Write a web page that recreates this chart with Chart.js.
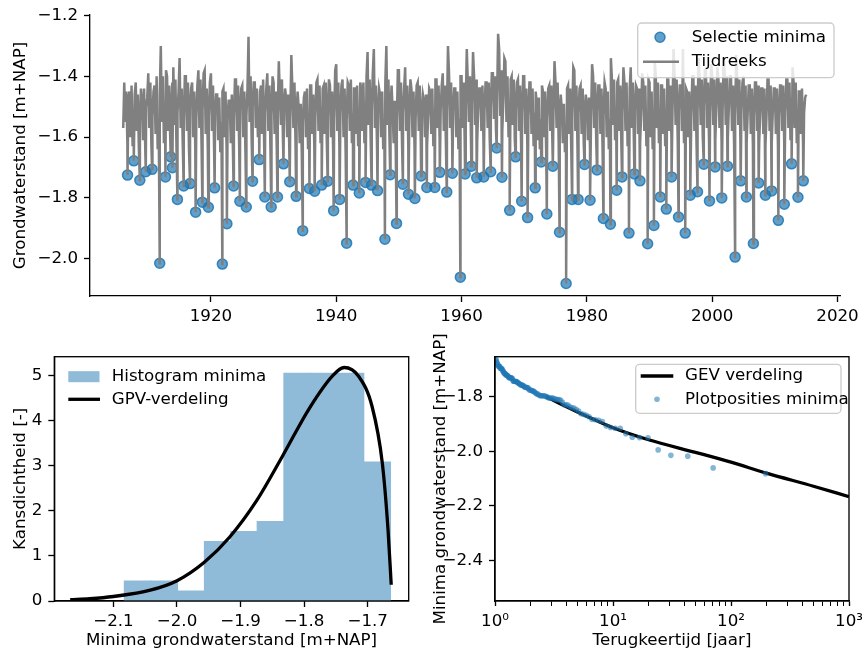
<!DOCTYPE html>
<html>
<head>
<meta charset="utf-8">
<script src="https://cdn.jsdelivr.net/npm/chart.js@4/dist/chart.umd.min.js"></script>
<style>
  html, body { margin: 0; padding: 0; background: #fff; }
  #wrap { position: relative; width: 862px; height: 649px; overflow: hidden; }
  canvas { position: absolute; }
</style>
</head>
<body>
<div id="wrap">
  <canvas id="tijdreeks" width="862" height="330" style="left:0;top:0"></canvas>
  <canvas id="histogram" width="431" height="319" style="left:0;top:330px"></canvas>
  <canvas id="terugkeer" width="431" height="319" style="left:431px;top:330px"></canvas>
</div>
<script>
// ---- data -------------------------------------------------------------------

// annual minima: date (decimal year) and level [m+NAP]
const minimaJaar = [
  1906.69, 1907.69, 1908.65, 1909.60, 1910.61, 1911.83, 1912.74, 1913.58, 1913.85, 1914.65,
  1915.65, 1916.66, 1917.56, 1918.63, 1919.59, 1920.59, 1921.82, 1922.55, 1923.61, 1924.62,
  1925.64, 1926.64, 1927.71, 1928.60, 1929.62, 1930.62, 1931.58, 1932.58, 1933.60, 1934.65,
  1935.72, 1936.56, 1937.68, 1938.63, 1939.59, 1940.54, 1941.66, 1942.68, 1943.68, 1944.68,
  1945.64, 1946.59, 1947.77, 1948.61, 1949.62, 1950.64, 1951.53, 1952.55, 1953.55, 1954.46,
  1955.73, 1956.53, 1957.64, 1958.54, 1959.81, 1960.56, 1961.56, 1962.42, 1963.54, 1964.65,
  1965.61, 1966.45, 1967.68, 1968.63, 1969.59, 1970.54, 1971.75, 1972.71, 1973.61, 1974.57,
  1975.64, 1976.69, 1977.64, 1978.60, 1979.62, 1980.51, 1981.62, 1982.64, 1983.76, 1984.76,
  1985.61, 1986.72, 1987.58, 1988.47, 1989.70, 1990.70, 1991.72, 1992.68, 1993.52, 1994.63,
  1995.70, 1996.50, 1997.66, 1998.66, 1999.57, 2000.48, 2001.53, 2002.44, 2003.66, 2004.55,
  2005.46, 2006.58, 2007.42, 2008.49, 2009.49, 2010.56, 2011.51, 2012.68, 2013.69, 2014.54
];
const minimaWaarde = [
  -1.725, -1.678, -1.742, -1.714, -1.706, -2.015, -1.731, -1.665, -1.701, -1.805,
  -1.761, -1.753, -1.847, -1.814, -1.831, -1.767, -2.018, -1.885, -1.761, -1.811,
  -1.830, -1.745, -1.674, -1.797, -1.830, -1.797, -1.688, -1.747, -1.795, -1.908,
  -1.769, -1.778, -1.758, -1.745, -1.842, -1.805, -1.949, -1.758, -1.784, -1.749,
  -1.758, -1.776, -1.936, -1.724, -1.884, -1.755, -1.788, -1.802, -1.728, -1.766,
  -1.766, -1.716, -1.781, -1.719, -2.061, -1.721, -1.696, -1.734, -1.731, -1.714,
  -1.636, -1.732, -1.841, -1.665, -1.811, -1.865, -1.767, -1.682, -1.853, -1.696,
  -1.913, -2.082, -1.805, -1.805, -1.690, -1.808, -1.708, -1.868, -1.887, -1.775,
  -1.731, -1.916, -1.721, -1.744, -1.951, -1.891, -1.797, -1.837, -1.731, -1.863,
  -1.916, -1.791, -1.780, -1.689, -1.810, -1.698, -1.800, -1.696, -1.995, -1.744,
  -1.797, -1.950, -1.751, -1.791, -1.777, -1.874, -1.821, -1.688, -1.798, -1.744
];

// rest of the time series: 6 readings per year (Jan, Mar, May, Jul, Sep, Nov), 1906 - 2015
const reeksStartJaar = 1906;
const reeksPerJaar = 6;
const reeksWaarden = [
  -1.57,-1.42,-1.55,-1.45,-1.62,-1.47,  -1.45,-1.60,-1.43,-1.63,-1.52,-1.46,
  -1.42,-1.58,-1.46,-1.64,-1.55,-1.44,  -1.48,-1.61,-1.44,-1.62,-1.50,-1.47,
  -1.39,-1.57,-1.42,-1.63,-1.53,-1.45,  -1.43,-1.59,-1.40,-1.64,-1.56,-1.46,
  -1.30,-1.55,-1.40,-1.62,-1.50,-1.38,  -1.40,-1.58,-1.43,-1.60,-1.51,-1.42,
  -1.37,-1.56,-1.41,-1.63,-1.52,-1.45,  -1.34,-1.57,-1.44,-1.62,-1.55,-1.40,
  -1.40,-1.58,-1.42,-1.64,-1.50,-1.44,  -1.42,-1.60,-1.45,-1.63,-1.54,-1.43,
  -1.38,-1.57,-1.41,-1.62,-1.51,-1.39,  -1.38,-1.59,-1.44,-1.64,-1.53,-1.42,
  -1.39,-1.58,-1.43,-1.63,-1.52,-1.46,  -1.46,-1.61,-1.47,-1.65,-1.55,-1.45,
  -1.44,-1.60,-1.45,-1.64,-1.53,-1.48,  -1.48,-1.62,-1.46,-1.63,-1.54,-1.41,
  -1.41,-1.58,-1.43,-1.62,-1.51,-1.44,  -1.43,-1.60,-1.45,-1.64,-1.53,-1.44,
  -1.27,-1.55,-1.40,-1.61,-1.50,-1.42,  -1.42,-1.57,-1.44,-1.60,-1.50,-1.45,
  -1.43,-1.59,-1.41,-1.63,-1.52,-1.44,  -1.39,-1.58,-1.43,-1.64,-1.53,-1.40,
  -1.42,-1.59,-1.45,-1.63,-1.52,-1.35,  -1.46,-1.56,-1.41,-1.61,-1.50,-1.44,
  -1.47,-1.60,-1.46,-1.63,-1.53,-1.33,  -1.44,-1.57,-1.42,-1.62,-1.52,-1.45,
  -1.50,-1.62,-1.49,-1.65,-1.55,-1.47,  -1.45,-1.60,-1.44,-1.64,-1.54,-1.43,
  -1.43,-1.59,-1.46,-1.63,-1.53,-1.42,  -1.41,-1.58,-1.43,-1.62,-1.52,-1.44,
  -1.43,-1.59,-1.42,-1.62,-1.53,-1.41,  -1.43,-1.60,-1.45,-1.64,-1.54,-1.38,
  -1.36,-1.58,-1.42,-1.63,-1.52,-1.43,  -1.41,-1.60,-1.44,-1.65,-1.54,-1.42,
  -1.43,-1.58,-1.41,-1.62,-1.52,-1.44,  -1.44,-1.59,-1.43,-1.63,-1.53,-1.42,
  -1.44,-1.58,-1.42,-1.62,-1.52,-1.40,  -1.32,-1.56,-1.41,-1.61,-1.51,-1.39,
  -1.31,-1.57,-1.43,-1.62,-1.52,-1.44,  -1.46,-1.60,-1.45,-1.64,-1.54,-1.42,
  -1.30,-1.56,-1.41,-1.61,-1.50,-1.43,  -1.51,-1.62,-1.48,-1.65,-1.55,-1.38,
  -1.38,-1.58,-1.42,-1.62,-1.52,-1.44,  -1.37,-1.58,-1.43,-1.63,-1.53,-1.41,
  -1.44,-1.60,-1.45,-1.64,-1.54,-1.43,  -1.42,-1.58,-1.43,-1.62,-1.52,-1.46,
  -1.48,-1.60,-1.46,-1.63,-1.53,-1.44,  -1.45,-1.59,-1.44,-1.63,-1.53,-1.41,
  -1.41,-1.57,-1.43,-1.61,-1.51,-1.43,  -1.39,-1.58,-1.43,-1.62,-1.52,-1.30,
  -1.39,-1.57,-1.42,-1.61,-1.51,-1.44,  -1.44,-1.60,-1.45,-1.64,-1.54,-1.40,
  -1.40,-1.57,-1.42,-1.61,-1.50,-1.31,  -1.42,-1.55,-1.40,-1.60,-1.49,-1.32,
  -1.40,-1.56,-1.41,-1.61,-1.50,-1.44,  -1.44,-1.58,-1.43,-1.62,-1.51,-1.42,
  -1.42,-1.57,-1.42,-1.61,-1.50,-1.39,  -1.39,-1.54,-1.40,-1.58,-1.48,-1.26,
  -1.31,-1.53,-1.38,-1.58,-1.48,-1.34,  -1.35,-1.55,-1.40,-1.60,-1.50,-1.41,
  -1.40,-1.56,-1.41,-1.61,-1.51,-1.42,  -1.41,-1.58,-1.43,-1.62,-1.52,-1.40,
  -1.40,-1.59,-1.44,-1.63,-1.53,-1.42,  -1.42,-1.59,-1.44,-1.63,-1.52,-1.45,
  -1.49,-1.61,-1.47,-1.64,-1.54,-1.43,  -1.45,-1.60,-1.45,-1.64,-1.54,-1.44,
  -1.43,-1.58,-1.43,-1.62,-1.52,-1.35,  -1.42,-1.57,-1.42,-1.62,-1.52,-1.46,
  -1.51,-1.62,-1.49,-1.65,-1.56,-1.44,  -1.43,-1.59,-1.44,-1.63,-1.53,-1.37,
  -1.38,-1.58,-1.43,-1.63,-1.52,-1.44,  -1.43,-1.59,-1.44,-1.62,-1.52,-1.46,
  -1.50,-1.61,-1.47,-1.64,-1.54,-1.36,  -1.40,-1.57,-1.42,-1.62,-1.51,-1.43,
  -1.43,-1.59,-1.44,-1.63,-1.53,-1.42,  -1.44,-1.60,-1.45,-1.64,-1.54,-1.34,
  -1.41,-1.56,-1.41,-1.61,-1.51,-1.42,  -1.41,-1.58,-1.43,-1.62,-1.52,-1.37,
  -1.42,-1.58,-1.42,-1.63,-1.53,-1.44,  -1.37,-1.57,-1.42,-1.61,-1.51,-1.43,
  -1.44,-1.59,-1.44,-1.62,-1.52,-1.39,  -1.42,-1.58,-1.43,-1.63,-1.53,-1.41,
  -1.42,-1.60,-1.45,-1.64,-1.54,-1.35,  -1.40,-1.57,-1.42,-1.62,-1.52,-1.43,
  -1.43,-1.59,-1.44,-1.63,-1.53,-1.41,  -1.41,-1.58,-1.43,-1.61,-1.51,-1.31,
  -1.40,-1.56,-1.41,-1.61,-1.51,-1.43,  -1.43,-1.58,-1.31,-1.62,-1.52,-1.44,
  -1.45,-1.60,-1.45,-1.63,-1.53,-1.40,  -1.40,-1.58,-1.43,-1.62,-1.52,-1.34,
  -1.41,-1.56,-1.41,-1.60,-1.50,-1.38,  -1.38,-1.57,-1.42,-1.62,-1.52,-1.36,
  -1.40,-1.56,-1.41,-1.61,-1.50,-1.37,  -1.41,-1.57,-1.42,-1.62,-1.51,-1.34,
  -1.39,-1.56,-1.40,-1.60,-1.50,-1.40,  -1.40,-1.58,-1.43,-1.63,-1.53,-1.33,
  -1.41,-1.56,-1.41,-1.61,-1.51,-1.42,  -1.40,-1.58,-1.43,-1.62,-1.52,-1.43,
  -1.43,-1.59,-1.44,-1.63,-1.53,-1.42,  -1.42,-1.58,-1.43,-1.62,-1.52,-1.44,
  -1.44,-1.59,-1.44,-1.63,-1.53,-1.41,  -1.41,-1.58,-1.43,-1.62,-1.52,-1.44,
  -1.44,-1.59,-1.44,-1.63,-1.53,-1.43,  -1.43,-1.58,-1.43,-1.62,-1.52,-1.41,
  -1.41,-1.57,-1.42,-1.61,-1.51,-1.37,  -1.42,-1.57,-1.42,-1.62,-1.52,-1.45,
  -1.45,-1.59,-1.44,-1.62,-1.52,-1.47,
  -1.46
];

// histogram of the minima (density) and the fitted GPV curve
const binRanden = [-2.083, -2.041, -1.999, -1.957, -1.915, -1.874, -1.832, -1.790, -1.748, -1.706, -1.664];
const histDichtheid = [0.44, 0.44, 0.22, 1.32, 1.54, 1.76, 5.05, 5.05, 5.05, 3.08];
const gpvX = [-2.168, -2.137, -2.100, -2.042, -2.000, -1.957, -1.917, -1.875, -1.833, -1.792, -1.755, -1.737, -1.714, -1.693, -1.677, -1.668, -1.663];
const gpvY = [0.03, 0.05, 0.10, 0.24, 0.45, 0.86, 1.42, 2.22, 3.24, 4.27, 5.00, 5.18, 4.98, 4.31, 3.06, 1.58, 0.36];

// GEV return-period curve
const gevT = [2.7, 3.5, 5, 7, 10, 20, 50, 100, 200, 500, 1000];
const gevWaarde = [-1.800, -1.824, -1.856, -1.885, -1.914, -1.958, -2.004, -2.040, -2.080, -2.128, -2.166];

// tick labels
const jaarTicks = [1920, 1940, 1960, 1980, 2000, 2020];
const standTicks = [-2.0, -1.8, -1.6, -1.4, -1.2];
const histXTicks = [-2.1, -2.0, -1.9, -1.8, -1.7];
const histYTicks = [0, 1, 2, 3, 4, 5];
const terugTicks = [1, 10, 100, 1000];
const terugLabels = ['10\u2070', '10\u00b9', '10\u00b2', '10\u00b3'];
const terugMinorTicks = [2, 3, 4, 5, 6, 7, 8, 9, 20, 30, 40, 50, 60, 70, 80, 90, 200, 300, 400, 500, 600, 700, 800, 900];
const terugYTicks = [-2.4, -2.2, -2.0, -1.8];


// ---- helpers ---------------------------------------------------------------
Chart.defaults.font.family = "'DejaVu Sans', sans-serif";
Chart.defaults.font.size = 16.7;
Chart.defaults.color = '#000';

const LIJN = 1.33;   // spine / tick width

function minteken(v, d)
{
    return v.toFixed(d).replace('-', '\u2212');
}

function vasteTicks(lijst)
{
    return ax => { ax.ticks = lijst.map(v => ({ value: v })); };
}

// common look of an axis (matplotlib-like outward ticks, no grid)
function as(extra)
{
    return Object.assign({
        grid: { drawOnChartArea: false, drawTicks: true, tickLength: 6, tickWidth: LIJN, tickColor: '#000' },
        border: { display: true, color: '#000', width: LIJN },
        ticks: { autoSkip: false, maxRotation: 0, padding: 5 }
    }, extra);
}

function xHoogte(h)
{
    return ax => { ax.height = h; ax.paddingLeft = 0; ax.paddingRight = 0; };
}
function yBreedte(w)
{
    return ax => { ax.width = w; ax.paddingTop = 0; ax.paddingBottom = 0; };
}

// closed box around the plot area
const kader = {
    id: 'kader',
    afterDraw(chart)
    {
        const a = chart.chartArea, ctx = chart.ctx;
        ctx.save();
        ctx.strokeStyle = '#000';
        ctx.lineWidth = LIJN;
        ctx.strokeRect(a.left, a.top, a.right - a.left, a.bottom - a.top);
        ctx.restore();
    }
};

// matplotlib style legend drawn on the canvas
function legende(cfg)
{
    return {
        id: 'legende',
        afterDraw(chart)
        {
            const ctx = chart.ctx;
            ctx.save();
            if(cfg.frame)
            {
                const f = cfg.frame;
                ctx.beginPath();
                ctx.roundRect(f.x, f.y, f.w, f.h, 4);
                ctx.fillStyle = 'rgba(255,255,255,0.8)';
                ctx.fill();
                ctx.strokeStyle = '#cccccc';
                ctx.lineWidth = LIJN;
                ctx.stroke();
            }
            ctx.font = "16.7px 'DejaVu Sans'";
            ctx.textBaseline = 'middle';
            cfg.items.forEach(it =>
            {
                if(it.kind === 'dot')
                {
                    ctx.beginPath();
                    ctx.arc(it.mx, it.y, it.r, 0, Math.PI * 2);
                    ctx.fillStyle = it.color;
                    ctx.fill();
                    if(it.edge)
                    {
                        ctx.strokeStyle = it.edge;
                        ctx.lineWidth = 1.5;
                        ctx.stroke();
                    }
                }
                else if(it.kind === 'line')
                {
                    ctx.beginPath();
                    ctx.moveTo(it.x0, it.y);
                    ctx.lineTo(it.x1, it.y);
                    ctx.strokeStyle = it.color;
                    ctx.lineWidth = it.w;
                    ctx.stroke();
                }
                else if(it.kind === 'patch')
                {
                    ctx.fillStyle = it.color;
                    ctx.fillRect(it.x0, it.y - 5.5, it.x1 - it.x0, 11);
                }
                ctx.fillStyle = '#000';
                ctx.fillText(it.label, cfg.tx, it.y);
            });
            ctx.restore();
        }
    };
}


// ---- top: time series with selected minima ---------------------------------
const reeksPunten = reeksWaarden.map((v, i) => ({ x: reeksStartJaar + i / reeksPerJaar, y: v }));
const minimaPunten = minimaJaar.map((j, i) => ({ x: j, y: minimaWaarde[i] }));
const lijnPunten = reeksPunten.concat(minimaPunten).sort((a, b) => a.x - b.x);

new Chart(document.getElementById('tijdreeks'),
{
    type: 'line',
    data:
    {
        datasets:
        [{
            label: 'Tijdreeks',
            data: lijnPunten,
            borderColor: '#808080',
            borderWidth: 2.5,
            pointRadius: 0,
            tension: 0,
            order: 0
        },
        {
            label: 'Selectie minima',
            type: 'scatter',
            data: minimaPunten,
            backgroundColor: 'rgba(31,119,180,0.7)',
            borderColor: 'rgba(31,119,180,0.85)',
            borderWidth: 1.5,
            pointRadius: 5,
            order: 1
        }]
    },
    options:
    {
        animation: false,
        responsive: false,
        devicePixelRatio: 1,
        layout: { padding: { left: 0, top: 15, right: 22, bottom: 0 } },
        plugins: { legend: { display: false }, tooltip: { enabled: false } },
        scales:
        {
            x: as({
                type: 'linear', min: 1900.7, max: 2020.4,
                afterBuildTicks: vasteTicks(jaarTicks),
                afterFit: xHoogte(34),
                ticks: { autoSkip: false, maxRotation: 0, padding: 5, callback: v => String(v) }
            }),
            y: as({
                min: -2.123, max: -1.198,
                afterBuildTicks: vasteTicks(standTicks),
                afterFit: yBreedte(90),
                ticks: { autoSkip: false, padding: 6, callback: v => minteken(v, 1) },
                title: { display: true, text: 'Grondwaterstand [m+NAP]', padding: { top: 11, bottom: 0 } }
            })
        }
    },
    plugins:
    [legende({
        frame: { x: 637.7, y: 23, w: 196.3, h: 54.7 },
        tx: 691.7,
        items:
        [
            { kind: 'dot', label: 'Selectie minima', mx: 660, y: 37.3, r: 5, color: 'rgba(31,119,180,0.7)', edge: 'rgba(31,119,180,0.85)' },
            { kind: 'line', label: 'Tijdreeks', x0: 643, x1: 679, y: 61.7, color: '#808080', w: 2.5 }
        ]
    })]
});


// ---- bottom left: histogram + GPV ------------------------------------------
const histPunten = histDichtheid.map((d, i) => ({ x: (binRanden[i] + binRanden[i + 1]) / 2, y: d }));
const gpvPunten = gpvX.map((x, i) => ({ x: x, y: gpvY[i] }));

new Chart(document.getElementById('histogram'),
{
    type: 'bar',
    data:
    {
        datasets:
        [{
            label: 'GPV-verdeling',
            type: 'line',
            data: gpvPunten,
            borderColor: '#000',
            borderWidth: 3.3,
            pointRadius: 0,
            cubicInterpolationMode: 'monotone',
            order: 0
        },
        {
            label: 'Histogram minima',
            data: histPunten,
            backgroundColor: '#8fbbd9',
            borderWidth: 0,
            inflateAmount: 0.6,
            barPercentage: 1,
            categoryPercentage: 1,
            grouped: false,
            order: 1
        }]
    },
    options:
    {
        animation: false,
        responsive: false,
        devicePixelRatio: 1,
        layout: { padding: { left: 0, top: 26.7, right: 22.3, bottom: 0 } },
        plugins: { legend: { display: false }, tooltip: { enabled: false } },
        scales:
        {
            x: as({
                type: 'linear', min: -2.193, max: -1.6355, offset: false,
                grid: { offset: false, drawOnChartArea: false, drawTicks: true, tickLength: 6, tickWidth: LIJN, tickColor: '#000' },
                afterBuildTicks: vasteTicks(histXTicks),
                afterFit: xHoogte(48),
                ticks: { autoSkip: false, maxRotation: 0, padding: 5, callback: v => minteken(v, 1) },
                title: { display: true, text: 'Minima grondwaterstand [m+NAP]', padding: { top: 0, bottom: -2 } }
            }),
            y: as({
                type: 'linear', min: 0, max: 5.42,
                afterBuildTicks: vasteTicks(histYTicks),
                afterFit: yBreedte(54.3),
                ticks: { autoSkip: false, padding: 6, callback: v => String(v) },
                title: { display: true, text: 'Kansdichtheid [-]', padding: { top: 11, bottom: 0 } }
            })
        }
    },
    plugins:
    [kader, legende({
        frame: null,
        tx: 111.7,
        items:
        [
            { kind: 'patch', label: 'Histogram minima', x0: 68.3, x1: 99.5, y: 46.7, color: '#8fbbd9' },
            { kind: 'line', label: 'GPV-verdeling', x0: 68.3, x1: 100, y: 69.3, color: '#000', w: 3.3 }
        ]
    })]
});


// ---- bottom right: return periods + GEV ------------------------------------
// Gringorten plotting positions of the sorted minima
const gesorteerd = minimaWaarde.slice().sort((a, b) => a - b);
const n = gesorteerd.length;
const plotPunten = gesorteerd.map((v, i) => ({ x: (n + 0.12) / (i + 1 - 0.44), y: v }));
const gevPunten = gevT.map((t, i) => ({ x: t, y: gevWaarde[i] }));

new Chart(document.getElementById('terugkeer'),
{
    type: 'scatter',
    data:
    {
        datasets:
        [{
            label: 'Plotposities minima',
            data: plotPunten,
            backgroundColor: 'rgba(31,119,180,0.55)',
            borderWidth: 0,
            pointRadius: 2.8,
            order: 0
        },
        {
            label: 'GEV verdeling',
            type: 'line',
            data: gevPunten,
            borderColor: '#000',
            borderWidth: 3.3,
            pointRadius: 0,
            cubicInterpolationMode: 'monotone',
            order: 1
        }]
    },
    options:
    {
        animation: false,
        responsive: false,
        devicePixelRatio: 1,
        layout: { padding: { left: 0, top: 26.7, right: 13, bottom: 0 } },
        plugins: { legend: { display: false }, tooltip: { enabled: false } },
        scales:
        {
            x: as({
                type: 'logarithmic', min: 1, max: 1000,
                afterBuildTicks: vasteTicks(terugTicks.concat(terugMinorTicks).sort((a, b) => a - b)),
                afterFit: xHoogte(48),
                grid:
                {
                    drawOnChartArea: false, drawTicks: true, tickLength: 5, tickColor: '#000',
                    tickWidth: c => (c.tick && terugTicks.includes(c.tick.value)) ? LIJN : 1
                },
                ticks:
                {
                    autoSkip: false, maxRotation: 0, padding: 6,
                    callback: v => { const k = terugTicks.indexOf(v); return k >= 0 ? terugLabels[k] : ''; }
                },
                title: { display: true, text: 'Terugkeertijd [jaar]', padding: { top: 0, bottom: -2 } }
            }),
            y: as({
                type: 'linear', min: -2.548, max: -1.654,
                afterBuildTicks: vasteTicks(terugYTicks),
                afterFit: yBreedte(64),
                ticks: { autoSkip: false, padding: 6, callback: v => minteken(v, 1) },
                title: { display: true, text: 'Minima grondwaterstand [m+NAP]', padding: { top: 0, bottom: 0 } }
            })
        }
    },
    plugins:
    [kader, legende({
        frame: { x: 204.7, y: 34.3, w: 205.3, h: 49 },
        tx: 254,
        items:
        [
            { kind: 'line', label: 'GEV verdeling', x0: 209.7, x1: 242.3, y: 46, color: '#000', w: 3.3 },
            { kind: 'dot', label: 'Plotposities minima', mx: 226, y: 69.3, r: 2.8, color: 'rgba(31,119,180,0.55)' }
        ]
    })]
});
</script>
</body>
</html>
